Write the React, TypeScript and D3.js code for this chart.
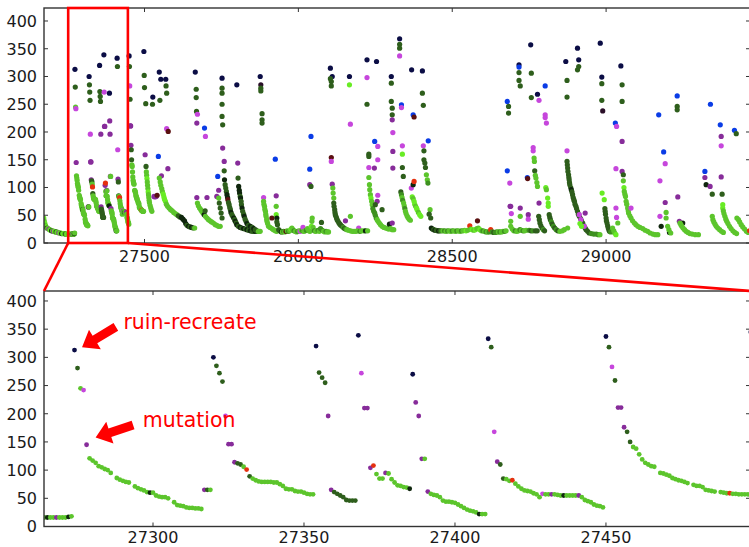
import React, { useEffect, useRef } from 'react';
import * as d3 from 'd3';

type Pt = [number, number, string];

// cost per iteration, colour key = which operator produced the solution
const startRun: Pt[] = [
  [27173, 45, 'lime'], [27174, 40, 'lg'], [27176, 36, 'lime'], [27178, 32, 'lg'], [27180, 29, 'lime'],
  [27183, 27, 'dg'], [27186, 26, 'lime'], [27189, 25, 'p'], [27192, 24, 'lg'], [27195, 23, 'lime'],
  [27198, 22, 'k'], [27201, 22, 'lg'], [27204, 21, 'p'], [27207, 21, 'lime'], [27210, 20, 'lg'],
  [27213, 20, 'dg'], [27216, 19, 'lime'], [27219, 19, 'lg'], [27222, 18, 'p'], [27225, 18, 'lime'],
  [27228, 18, 'lg'], [27231, 17, 'k'], [27234, 17, 'lg'], [27237, 17, 'lime'], [27240, 17, 'lg'],
  [27243, 16, 'dg'], [27246, 16, 'lg'], [27249, 16, 'lime'], [27252, 16, 'lg'], [27255, 16, 'lg'],
  [27258, 16, 'lg'], [27261, 16, 'lime'],
];

const zoomRun: Pt[] = [
  [27264, 16, 'lg'], [27265, 16, 'k'], [27266, 16, 'lg'], [27267, 16, 'lg'], [27268, 16, 'p'],
  [27269, 16, 'lg'], [27270, 16, 'lg'], [27271, 16, 'lg'], [27272, 17, 'k'], [27273, 18, 'lg'],
  [27274, 313, 'nv'], [27275, 281, 'dg'], [27276, 245, 'lg'], [27277, 242, 'm'], [27278, 145, 'p'],
  [27279, 121, 'lg'], [27280, 117, 'lg'], [27281, 113, 'lg'], [27282, 107, 'lg'], [27283, 105, 'lg'],
  [27284, 102, 'lg'], [27285, 100, 'lg'], [27286, 95, 'lg'], [27288, 86, 'lg'], [27289, 83, 'lg'],
  [27290, 81, 'lg'], [27291, 79, 'lg'], [27292, 78, 'lg'], [27294, 71, 'lg'], [27295, 68, 'lg'],
  [27296, 66, 'lg'], [27297, 64, 'lg'], [27298, 61, 'lg'], [27299, 60, 'k'], [27300, 60, 'lg'],
  [27301, 55, 'lg'], [27302, 53, 'lg'], [27303, 52, 'lg'], [27304, 52, 'lg'], [27305, 50, 'lg'],
  [27307, 43, 'lg'], [27308, 38, 'lg'], [27309, 37, 'lg'], [27310, 36, 'lg'], [27311, 34, 'lg'],
  [27312, 33, 'lg'], [27313, 33, 'lg'], [27314, 32, 'lg'], [27315, 32, 'lg'], [27316, 31, 'lg'],
  [27317, 65, 'p'], [27318, 65, 'dg'], [27319, 65, 'lg'],
  [27320, 300, 'nv'], [27321, 285, 'dg'], [27322, 272, 'dg'], [27323, 257, 'dg'],
  [27324, 196, 'm'], [27325, 146, 'p'], [27326, 146, 'p'],
  [27327, 114, 'p'], [27328, 112, 'dg'], [27329, 110, 'dg'], [27330, 106, 'lg'], [27331, 101, 'r'], [27332, 89, 'dg'],
  [27333, 85, 'lg'], [27334, 82, 'lg'], [27335, 80, 'lg'], [27336, 79, 'lg'], [27337, 79, 'lg'],
  [27338, 79, 'lg'], [27339, 79, 'lg'], [27340, 78, 'lg'], [27341, 78, 'lg'], [27342, 75, 'lg'],
  [27343, 72, 'lg'], [27344, 67, 'lg'], [27345, 66, 'lg'], [27346, 66, 'lg'], [27347, 63, 'lg'],
  [27348, 62, 'lg'], [27349, 62, 'lg'], [27350, 60, 'lg'], [27351, 58, 'lg'], [27352, 57, 'lg'], [27353, 57, 'lg'],
  [27354, 320, 'nv'], [27355, 273, 'dg'], [27356, 264, 'dg'], [27357, 255, 'dg'], [27358, 196, 'p'],
  [27359, 65, 'p'], [27360, 61, 'dg'], [27361, 58, 'dg'], [27362, 55, 'dg'], [27363, 52, 'dg'],
  [27364, 47, 'dg'], [27365, 46, 'dg'], [27366, 46, 'dg'], [27367, 46, 'dg'],
  [27368, 339, 'nv'], [27369, 272, 'm'], [27370, 210, 'p'], [27371, 210, 'p'],
  [27372, 104, 'p'], [27373, 108, 'r'], [27374, 93, 'lg'], [27375, 85, 'lg'], [27376, 85, 'lg'],
  [27377, 95, 'p'], [27378, 94, 'lg'], [27379, 84, 'lg'], [27380, 78, 'lg'], [27381, 73, 'lg'],
  [27382, 72, 'lg'], [27383, 70, 'lg'], [27384, 69, 'lg'], [27385, 67, 'k'],
  [27386, 270, 'nv'], [27387, 220, 'p'], [27388, 196, 'p'], [27389, 120, 'p'], [27390, 120, 'lg'],
  [27391, 62, 'p'], [27392, 58, 'lg'], [27393, 56, 'lg'], [27394, 55, 'lg'], [27395, 52, 'lg'],
  [27396, 46, 'lg'], [27397, 44, 'lg'], [27398, 44, 'lg'], [27399, 43, 'lg'], [27400, 42, 'lg'],
  [27401, 39, 'lg'], [27402, 36, 'lg'], [27403, 33, 'lg'], [27404, 30, 'lg'], [27405, 28, 'lg'],
  [27406, 27, 'lg'], [27407, 25, 'lg'], [27408, 22, 'k'], [27409, 22, 'lg'], [27410, 22, 'lg'],
  [27411, 333, 'nv'], [27412, 318, 'dg'], [27413, 168, 'm'], [27414, 115, 'p'], [27415, 110, 'dg'],
  [27416, 85, 'dg'], [27417, 84, 'lg'], [27418, 81, 'lg'], [27419, 82, 'r'], [27420, 76, 'lg'],
  [27421, 71, 'lg'], [27422, 67, 'lg'], [27423, 64, 'lg'], [27424, 63, 'lg'], [27425, 62, 'lg'],
  [27426, 59, 'lg'], [27427, 57, 'lg'], [27428, 52, 'lg'], [27429, 58, 'm'], [27430, 57, 'lg'],
  [27431, 57, 'lg'], [27432, 57, 'p'], [27433, 57, 'lg'], [27434, 56, 'lg'], [27435, 55, 'lg'],
  [27436, 55, 'k'], [27437, 55, 'lg'], [27438, 55, 'lg'], [27439, 55, 'lg'], [27440, 55, 'lg'],
  [27441, 55, 'p'], [27442, 52, 'lg'], [27443, 47, 'lg'], [27444, 45, 'lg'], [27445, 43, 'lg'],
  [27446, 39, 'lg'], [27447, 37, 'lg'], [27448, 36, 'lg'], [27449, 34, 'lg'],
  [27450, 337, 'nv'], [27451, 318, 'dg'], [27452, 283, 'm'], [27453, 259, 'dg'], [27454, 211, 'p'],
  [27455, 211, 'p'], [27456, 176, 'p'], [27457, 168, 'dg'], [27458, 150, 'dg'],
  [27459, 141, 'lg'], [27460, 138, 'lg'], [27461, 128, 'lg'], [27462, 119, 'lg'], [27463, 113, 'lg'],
  [27464, 110, 'lg'], [27465, 107, 'lg'], [27466, 106, 'lg'], [27468, 95, 'lg'], [27469, 94, 'lg'],
  [27470, 92, 'lg'], [27471, 90, 'lg'], [27472, 86, 'lg'], [27473, 84, 'lg'], [27474, 82, 'lg'],
  [27475, 81, 'lg'], [27476, 79, 'lg'], [27477, 77, 'lg'], [27479, 74, 'lg'], [27480, 72, 'lg'],
  [27481, 72, 'lg'], [27482, 70, 'lg'], [27483, 65, 'lg'], [27484, 64, 'lg'], [27485, 63, 'lg'],
  [27486, 62, 'lg'], [27488, 61, 'lg'], [27489, 60, 'lg'], [27490, 59, 'lg'], [27491, 59, 'r'],
  [27492, 58, 'lg'], [27493, 58, 'lg'], [27494, 57, 'lg'], [27495, 57, 'lg'], [27496, 57, 'lg'], [27497, 57, 'lg'],
];

const run27500: Pt[] = [
  [27498, 345, 'nv'], [27499, 302, 'dg'], [27500, 280, 'dg'], [27502, 159, 'p'], [27504, 251, 'dg'], [27505, 138, 'dg'],
  [27506, 128, 'lg'], [27507, 122, 'lg'], [27508, 116, 'lime'], [27509, 110, 'lg'], [27510, 104, 'lg'],
  [27511, 98, 'lg'], [27512, 92, 'lime'], [27513, 87, 'lg'], [27514, 82, 'lg'], [27515, 77, 'lg'],
  [27516, 73, 'lg'], [27518, 68, 'lg'], [27520, 64, 'lg'], [27522, 60, 'lg'], [27524, 57, 'lg'],
  [27527, 263, 'nv'], [27526, 250, 'dg'], [27531, 84, 'p'], [27534, 83, 'p'], [27538, 84, 'p'], [27541, 86, 'dr'],
  [27545, 156, 'b'], [27548, 308, 'nv'], [27550, 257, 'dg'], [27553, 295, 'nv'], [27555, 121, 'p'],
  [27569, 295, 'nv'], [27570, 283, 'dg'], [27572, 270, 'dg'], [27572, 206, 'm'], [27577, 201, 'dr'], [27576, 134, 'p'],
  [27548, 117, 'lg'], [27551, 110, 'lg'], [27553, 104, 'lg'], [27556, 98, 'lg'], [27558, 93, 'lg'],
  [27561, 88, 'lime'], [27563, 83, 'lime'], [27565, 79, 'lime'], [27568, 75, 'lime'], [27571, 70, 'lg'],
  [27575, 66, 'lg'], [27580, 63, 'lg'], [27585, 60, 'lg'], [27590, 58, 'lg'], [27595, 55, 'lg'],
  [27600, 53, 'lg'], [27605, 51, 'lg'], [27610, 49, 'dg'], [27615, 47, 'dg'], [27620, 46, 'k'],
  [27625, 43, 'k'], [27630, 40, 'k'], [27634, 35, 'k'], [27638, 32, 'dg'], [27643, 30, 'k'],
  [27648, 29, 'dg'], [27653, 28, 'k'], [27658, 27, 'dg'], [27663, 27, 'lg'],
  [27665, 308, 'nv'], [27668, 277, 'dg'], [27668, 262, 'dg'], [27669, 237, 'dg'], [27672, 232, 'm'],
  [27670, 216, 'p'], [27695, 207, 'b'], [27698, 192, 'm'], [27670, 82, 'p'],
  [27672, 72, 'lg'], [27675, 67, 'lg'], [27679, 63, 'lg'], [27683, 60, 'lg'], [27686, 57, 'lg'],
  [27690, 54, 'lg'], [27694, 51, 'k'], [27698, 48, 'lg'], [27703, 45, 'lg'], [27708, 42, 'lg'],
  [27713, 40, 'lg'], [27718, 38, 'lg'], [27724, 36, 'lg'], [27730, 33, 'lg'], [27735, 32, 'lg'],
  [27740, 30, 'lg'], [27746, 30, 'lg'], [27697, 58, 'dg'], [27703, 82, 'p'], [27738, 120, 'b'], [27741, 95, 'p'],
  [27735, 84, 'p'], [27741, 81, 'lg'], [27743, 72, 'dg'], [27746, 63, 'dg'], [27749, 54, 'dg'], [27752, 45, 'dg'],
  [27752, 297, 'nv'], [27752, 279, 'dg'], [27752, 270, 'dg'], [27752, 250, 'dg'], [27752, 228, 'dg'],
  [27754, 213, 'dg'], [27754, 171, 'p'], [27759, 147, 'p'], [27759, 130, 'dg'], [27760, 114, 'k'],
  [27762, 105, 'dg'], [27764, 99, 'dg'], [27766, 93, 'dg'], [27768, 87, 'k'], [27770, 82, 'k'],
  [27771, 78, 'dr'], [27773, 73, 'dg'], [27775, 69, 'dg'], [27777, 64, 'dg'], [27779, 60, 'dg'],
  [27781, 55, 'k'], [27784, 51, 'dg'], [27787, 48, 'dg'], [27790, 45, 'k'], [27793, 42, 'dg'],
  [27795, 39, 'k'], [27798, 36, 'dg'], [27800, 33, 'k'], [27805, 30, 'dg'], [27811, 28, 'k'],
  [27816, 27, 'dg'], [27822, 26, 'k'], [27828, 25, 'dg'], [27833, 24, 'k'], [27838, 23, 'dg'],
  [27844, 22, 'k'], [27850, 21, 'dg'], [27855, 21, 'dg'], [27860, 21, 'k'], [27866, 21, 'dg'], [27871, 21, 'lg'],
  [27800, 285, 'nv'], [27803, 144, 'p'], [27804, 117, 'dg'],
  [27806, 102, 'k'], [27808, 95, 'k'], [27809, 90, 'k'], [27811, 84, 'dg'], [27812, 81, 'k'],
  [27814, 75, 'dg'], [27815, 69, 'dg'], [27817, 63, 'k'], [27819, 57, 'dg'], [27822, 52, 'dg'],
  [27824, 48, 'k'], [27827, 43, 'dg'], [27830, 39, 'dg'], [27833, 35, 'k'], [27838, 32, 'dg'],
  [27844, 30, 'k'], [27850, 28, 'dg'], [27855, 26, 'k'], [27860, 24, 'dg'], [27865, 22, 'dg'],
  [27870, 21, 'lg'], [27876, 21, 'lg'],
  [27876, 300, 'nv'], [27878, 285, 'kp'], [27878, 279, 'dg'], [27878, 274, 'dg'], [27882, 233, 'dg'],
  [27882, 222, 'dg'], [27882, 216, 'dg'], [27887, 82, 'm'],
  [27887, 75, 'lg'], [27888, 70, 'lg'], [27890, 66, 'lg'], [27891, 61, 'lg'], [27893, 57, 'lg'],
  [27894, 52, 'lg'], [27895, 48, 'lg'], [27897, 43, 'lg'], [27898, 39, 'lg'], [27900, 35, 'lg'],
  [27903, 30, 'lg'], [27908, 28, 'lg'], [27914, 26, 'lg'], [27919, 24, 'lg'], [27925, 22, 'lg'], [27930, 21, 'lg'],
  [27925, 151, 'b'], [27928, 85, 'p'], [27928, 66, 'lg'], [27928, 51, 'lime'], [27914, 45, 'dr'],
  [27930, 45, 'k'], [27930, 38, 'dg'], [27932, 33, 'dg'], [27936, 24, 'dg'], [27940, 22, 'dg'], [27945, 20, 'k'],
];

const run28000: Pt[] = [
  [27948, 20, 'lg'], [27952, 21, 'g'], [27956, 20, 'lg'], [27960, 21, 'dr'], [27964, 22, 'lg'],
  [27968, 21, 'g'], [27972, 22, 'lg'], [27976, 25, 'lime'], [27979, 27, 'lg'], [27982, 24, 'lg'],
  [27986, 22, 'g'], [27990, 21, 'lg'], [27994, 20, 'lg'], [27998, 21, 'g'], [28002, 22, 'lg'],
  [28006, 21, 'm'], [28010, 23, 'lg'], [28014, 22, 'g'], [28015, 28, 'm'], [28018, 21, 'lg'],
  [28022, 22, 'lg'], [28026, 23, 'g'], [28030, 26, 'lg'], [28034, 22, 'lg'], [28038, 21, 'lg'],
  [28042, 30, 'lime'], [28044, 39, 'lg'], [28045, 45, 'lg'], [28048, 28, 'lg'], [28052, 22, 'g'],
  [28056, 21, 'lg'], [28060, 22, 'lg'], [28064, 23, 'g'], [28068, 21, 'lg'], [28072, 26, 'g'],
  [28075, 37, 'dg'], [28078, 23, 'g'], [28082, 21, 'lg'], [28086, 20, 'lg'], [28090, 21, 'g'],
  [28094, 20, 'lg'], [28098, 20, 'lg'],
  [28037, 133, 'b'], [28041, 192, 'b'], [28037, 105, 'p'], [28041, 102, 'dg'],
  [28104, 315, 'nv'], [28110, 300, 'nv'], [28104, 296, 'dg'], [28107, 291, 'dg'], [28107, 283, 'dg'],
  [28107, 154, 'dr'], [28107, 147, 'm'], [28110, 106, 'p'], [28112, 99, 'lg'], [28115, 81, 'lg'],
  [28113, 90, 'lg'], [28115, 72, 'dg'], [28116, 66, 'dg'], [28118, 60, 'dg'], [28119, 55, 'dg'],
  [28120, 51, 'dg'], [28122, 48, 'dg'], [28124, 45, 'dg'], [28126, 42, 'dg'], [28129, 39, 'dg'],
  [28132, 36, 'dg'], [28135, 34, 'dg'], [28138, 32, 'dg'], [28142, 30, 'dg'], [28146, 28, 'g'],
  [28150, 26, 'dg'], [28154, 25, 'g'], [28158, 24, 'lg'], [28163, 23, 'lg'], [28169, 22, 'lg'],
  [28175, 21, 'lg'], [28181, 21, 'lg'], [28187, 21, 'lg'],
  [28153, 40, 'p'], [28169, 48, 'lg'], [28196, 27, 'm'], [28166, 300, 'nv'], [28166, 285, 'lime'], [28169, 214, 'm'],
  [28192, 22, 'lg'], [28200, 21, 'g'], [28205, 22, 'lg'], [28212, 22, 'lg'], [28218, 22, 'k'], [28225, 22, 'lg'],
  [28223, 330, 'nv'], [28254, 327, 'nv'], [28223, 298, 'm'], [28223, 250, 'dg'], [28248, 183, 'b'],
  [28258, 174, 'm'], [28258, 150, 'm'], [28247, 135, 'p'], [28229, 160, 'dg'], [28229, 156, 'dg'], [28229, 136, 'm'],
  [28229, 118, 'lg'], [28231, 105, 'lg'], [28232, 96, 'lg'], [28234, 87, 'lg'], [28236, 81, 'lime'],
  [28238, 75, 'lg'], [28240, 69, 'lg'], [28242, 62, 'g'], [28245, 57, 'g'], [28248, 54, 'g'],
  [28250, 50, 'g'], [28253, 45, 'g'], [28256, 42, 'lg'], [28259, 39, 'lg'], [28263, 36, 'lg'],
  [28267, 33, 'lg'], [28272, 30, 'lg'], [28278, 28, 'lg'], [28284, 27, 'lg'], [28289, 26, 'lg'], [28294, 25, 'lg'],
  [28258, 86, 'm'], [28256, 75, 'p'], [28250, 69, 'dg'], [28272, 60, 'dg'], [28296, 34, 'k'],
  [28302, 300, 'nv'], [28302, 288, 'dg'], [28302, 255, 'dg'], [28305, 243, 'dg'], [28305, 231, 'dg'],
  [28305, 222, 'p'], [28307, 199, 'm'], [28307, 165, 'p'], [28307, 135, 'p'], [28305, 36, 'p'],
  [28300, 26, 'lg'], [28305, 24, 'lg'], [28310, 24, 'lg'],
  [28329, 368, 'nv'], [28329, 358, 'dg'], [28329, 351, 'dg'], [28329, 337, 'm'], [28368, 312, 'nv'],
  [28403, 310, 'nv'], [28403, 270, 'dg'], [28406, 248, 'dg'], [28335, 249, 'b'], [28335, 244, 'm'],
  [28373, 231, 'b'], [28376, 227, 'dr'], [28338, 175, 'm'], [28338, 160, 'lime'], [28338, 136, 'dg'], [28341, 120, 'dg'],
  [28333, 92, 'dg'], [28335, 87, 'g'], [28337, 82, 'lg'], [28339, 77, 'g'], [28342, 72, 'lg'],
  [28344, 67, 'lg'], [28346, 62, 'g'], [28348, 57, 'lg'], [28350, 53, 'lg'], [28353, 49, 'lg'],
  [28356, 46, 'lg'], [28360, 43, 'lg'], [28364, 41, 'lg'],
  [28367, 99, 'm'], [28373, 105, 'k'], [28376, 111, 'r'],
  [28370, 83, 'lime'], [28373, 80, 'lg'], [28376, 75, 'lime'], [28378, 70, 'lime'], [28381, 66, 'lg'],
  [28384, 63, 'lime'], [28386, 60, 'lime'], [28390, 55, 'lg'], [28394, 51, 'lime'], [28398, 48, 'lime'],
  [28422, 184, 'b'], [28406, 175, 'm'], [28408, 166, 'dg'], [28408, 150, 'dg'], [28411, 144, 'dg'],
  [28413, 136, 'dg'], [28416, 123, 'lg'], [28419, 114, 'lg'], [28421, 108, 'g'],
  [28428, 60, 'lg'], [28430, 45, 'dg'], [28425, 52, 'dg'],
];

const run28500: Pt[] = [
  [28432, 27, 'k'], [28436, 25, 'k'], [28440, 24, 'dg'], [28444, 23, 'k'], [28448, 23, 'dg'],
  [28452, 22, 'dg'], [28456, 22, 'k'], [28460, 22, 'dg'], [28465, 22, 'g'], [28470, 22, 'lg'],
  [28475, 22, 'g'], [28480, 21, 'lg'], [28485, 22, 'g'], [28490, 22, 'lg'], [28495, 21, 'lg'],
  [28500, 22, 'g'], [28505, 22, 'lg'], [28510, 21, 'lg'], [28515, 22, 'g'], [28520, 22, 'lg'],
  [28525, 21, 'lg'], [28530, 22, 'g'], [28535, 22, 'lg'], [28540, 23, 'lg'], [28545, 22, 'lime'],
  [28550, 23, 'lg'], [28557, 31, 'r'], [28560, 25, 'lg'], [28565, 24, 'lime'], [28570, 23, 'lg'],
  [28575, 24, 'lime'], [28580, 26, 'lg'], [28582, 40, 'dr'], [28585, 27, 'lg'], [28590, 24, 'lime'],
  [28595, 22, 'lg'], [28600, 22, 'g'], [28605, 21, 'lg'], [28610, 20, 'g'], [28615, 20, 'lg'],
  [28620, 20, 'g'], [28625, 24, 'r'], [28630, 20, 'g'], [28635, 19, 'dg'], [28640, 19, 'g'],
  [28645, 20, 'g'], [28650, 20, 'lg'], [28655, 20, 'g'], [28660, 20, 'lg'], [28665, 21, 'lg'],
  [28670, 21, 'g'], [28675, 22, 'lg'],
  [28679, 255, 'b'], [28683, 246, 'dg'], [28683, 234, 'dg'], [28679, 130, 'b'], [28687, 108, 'm'],
  [28688, 66, 'p'], [28690, 66, 'p'], [28692, 53, 'm'], [28690, 39, 'lg'], [28721, 63, 'p'],
  [28721, 48, 'lg'], [28747, 51, 'p'], [28747, 43, 'm'],
  [28690, 30, 'lg'], [28695, 25, 'lg'], [28700, 22, 'lg'], [28705, 22, 'g'], [28710, 21, 'lg'],
  [28715, 22, 'lg'], [28720, 24, 'g'], [28725, 23, 'lg'], [28730, 22, 'g'], [28735, 22, 'lg'],
  [28740, 23, 'lg'], [28750, 23, 'g'], [28756, 22, 'dg'], [28762, 22, 'g'], [28770, 22, 'dg'], [28776, 22, 'dg'],
  [28717, 321, 'nv'], [28717, 317, 'b'], [28717, 307, 'dg'], [28717, 293, 'dg'], [28721, 283, 'dg'],
  [28755, 357, 'nv'], [28757, 306, 'dg'], [28757, 262, 'dg'], [28777, 268, 'nv'], [28782, 257, 'm'],
  [28802, 283, 'b'], [28802, 231, 'm'], [28802, 226, 'm'], [28806, 216, 'm'],
  [28744, 118, 'b'], [28745, 116, 'dr'], [28763, 172, 'm'], [28763, 166, 'm'], [28766, 153, 'lg'],
  [28767, 147, 'lg'], [28768, 130, 'dg'], [28770, 122, 'lg'], [28772, 117, 'lg'], [28775, 109, 'lg'],
  [28777, 102, 'lg'], [28782, 72, 'p'], [28804, 100, 'lime'], [28806, 96, 'lg'], [28810, 81, 'lime'],
  [28812, 72, 'lime'], [28812, 66, 'lime'],
  [28781, 48, 'dg'], [28783, 42, 'dg'], [28785, 36, 'dg'], [28788, 31, 'dg'], [28792, 27, 'dg'],
  [28796, 24, 'g'], [28800, 22, 'dg'],
  [28815, 51, 'dg'], [28817, 46, 'dg'], [28819, 42, 'dg'], [28822, 38, 'g'], [28825, 34, 'dg'],
  [28829, 30, 'g'], [28833, 27, 'dg'], [28838, 24, 'g'], [28843, 22, 'dg'], [28850, 21, 'lg'],
  [28858, 22, 'lg'], [28864, 24, 'lg'],
  [28869, 327, 'nv'], [28873, 293, 'dg'], [28873, 263, 'dg'], [28873, 166, 'm'],
  [28873, 147, 'dg'], [28874, 141, 'dg'], [28875, 135, 'dg'], [28876, 129, 'dg'], [28878, 123, 'dg'],
  [28879, 118, 'dg'], [28880, 114, 'dg'], [28881, 109, 'dg'], [28882, 105, 'dg'], [28885, 100, 'dg'],
  [28887, 96, 'k'], [28889, 92, 'dg'], [28891, 87, 'dg'], [28893, 82, 'dg'], [28895, 78, 'dg'],
  [28897, 75, 'dg'], [28899, 70, 'dg'], [28902, 66, 'dg'], [28904, 62, 'dg'], [28907, 57, 'dg'],
  [28910, 52, 'dg'], [28913, 48, 'dg'], [28917, 44, 'dg'], [28920, 40, 'dg'], [28924, 36, 'dg'],
  [28928, 31, 'dg'], [28932, 27, 'dg'], [28935, 24, 'dg'], [28940, 21, 'dg'], [28945, 18, 'dg'],
  [28952, 17, 'g'], [28960, 16, 'g'], [28968, 16, 'g'], [28975, 15, 'g'], [28980, 15, 'lg'],
  [28913, 51, 'm'], [28918, 42, 'm'], [28929, 30, 'm'], [28932, 54, 'p'], [28875, 27, 'lg'],
  [28915, 35, 'lime'], [28920, 30, 'lime'],
  [28907, 351, 'nv'], [28911, 330, 'nv'], [28911, 318, 'dg'], [28907, 312, 'dg'],
];

const run29000: Pt[] = [
  [28981, 360, 'nv'], [28986, 299, 'nv'], [28986, 287, 'dg'], [28986, 257, 'dg'], [28989, 238, 'kp'],
  [28987, 90, 'lime'], [28994, 78, 'lime'],
  [28996, 62, 'dg'], [28997, 57, 'dg'], [28998, 52, 'dg'], [29000, 45, 'dg'], [29001, 40, 'dg'],
  [29003, 36, 'dg'], [29005, 31, 'dg'], [29007, 27, 'dg'], [29009, 24, 'dg'], [29011, 21, 'dg'],
  [29015, 20, 'g'], [29020, 22, 'g'], [29021, 27, 'lg'], [29025, 22, 'lg'], [29028, 18, 'lg'], [29032, 15, 'lime'],
  [29048, 319, 'nv'], [29052, 285, 'dg'], [29052, 255, 'dg'], [29030, 216, 'b'], [29034, 210, 'm'],
  [29052, 183, 'p'], [29032, 134, 'm'], [29052, 129, 'p'], [29056, 123, 'dg'], [29056, 112, 'lg'],
  [29032, 63, 'm'], [29034, 46, 'm'], [29038, 36, 'lg'],
  [29058, 100, 'lime'], [29059, 93, 'lg'], [29061, 88, 'lg'], [29063, 84, 'lg'], [29065, 75, 'lg'],
  [29067, 70, 'lg'], [29070, 63, 'lg'], [29072, 58, 'lg'], [29073, 54, 'lg'], [29077, 49, 'lg'],
  [29081, 45, 'lg'], [29086, 40, 'lg'], [29092, 36, 'lg'], [29097, 33, 'lg'], [29103, 30, 'lg'],
  [29110, 28, 'lg'], [29119, 26, 'lg'], [29127, 23, 'lg'], [29135, 21, 'lg'], [29143, 18, 'lg'],
  [29152, 16, 'lg'], [29160, 15, 'lg'], [29168, 15, 'lg'], [29081, 63, 'm'],
  [29171, 231, 'b'], [29187, 164, 'b'], [29192, 143, 'm'], [29175, 112, 'm'], [29192, 73, 'p'],
  [29195, 55, 'lg'], [29195, 45, 'lg'], [29175, 48, 'm'], [29179, 30, 'k'], [29206, 19, 'k'],
  [29200, 30, 'lg'], [29204, 24, 'lg'], [29210, 18, 'lg'],
  [29231, 265, 'b'], [29231, 246, 'dg'], [29231, 240, 'dg'], [29233, 83, 'p'], [29238, 39, 'p'], [29249, 36, 'k'],
  [29240, 36, 'lg'], [29243, 33, 'lg'], [29246, 30, 'lg'], [29250, 27, 'lg'], [29255, 24, 'lg'],
  [29260, 21, 'lg'], [29266, 19, 'lg'], [29272, 17, 'lg'], [29280, 16, 'lg'], [29290, 15, 'lg'], [29300, 15, 'lg'],
  [29339, 250, 'b'], [29321, 129, 'b'], [29321, 118, 'p'], [29325, 105, 'k'], [29338, 102, 'p'],
  [29345, 88, 'dg'], [29371, 213, 'b'], [29374, 192, 'p'], [29374, 175, 'm'], [29374, 119, 'p'],
  [29377, 88, 'dg'], [29379, 69, 'lime'], [29345, 48, 'lg'],
  [29347, 42, 'lg'], [29350, 38, 'lg'], [29354, 34, 'lg'], [29358, 30, 'lg'], [29363, 27, 'lg'],
  [29369, 24, 'lg'], [29375, 21, 'lg'], [29381, 19, 'lg'],
  [29379, 63, 'lime'], [29381, 58, 'lg'], [29383, 53, 'lg'], [29386, 48, 'lg'], [29389, 43, 'lg'],
  [29392, 39, 'lg'], [29396, 35, 'lg'], [29401, 30, 'lg'], [29406, 26, 'lg'], [29412, 22, 'lg'],
  [29418, 19, 'lg'], [29424, 17, 'lg'],
  [29417, 203, 'b'], [29423, 197, 'dg'], [29425, 45, 'lg'],
  [29430, 42, 'lg'], [29434, 38, 'lg'], [29439, 33, 'lg'], [29444, 29, 'lg'], [29450, 25, 'lg'],
  [29456, 21, 'lg'], [29462, 19, 'lg'], [29466, 22, 'r'],
];

const costTicks = [0, 50, 100, 150, 200, 250, 300, 350, 400];
const overviewTicks = [27500, 28000, 28500, 29000];
const zoomTicks = [27300, 27350, 27400, 27450];
const zoomWindow = [27252, 27446];

const palette: Record<string, string> = {
  lg: '#5cc52c', lime: '#68ec24', g: '#3e9020', dg: '#2e5e1c', k: '#0f260d', kp: '#2a0f28',
  nv: '#0b0d45', b: '#0a3ce6', p: '#872c9a', m: '#c646dc', r: '#e5300f', dr: '#5a1010',
};

const allPoints: Pt[] = [...startRun, ...zoomRun, ...run27500, ...run28000, ...run28500, ...run29000];

function arrowPath(x0: number, y0: number, x1: number, y1: number) {
  const w = 4.5, hw = 11.5, hl = 15;
  const dx = x1 - x0, dy = y1 - y0, len = Math.hypot(dx, dy);
  const ux = dx / len, uy = dy / len, nx = -uy, ny = ux;
  const bx = x1 - ux * hl, by = y1 - uy * hl;
  const pts = [
    [x0 + nx * w, y0 + ny * w], [bx + nx * w, by + ny * w], [bx + nx * hw, by + ny * hw],
    [x1, y1], [bx - nx * hw, by - ny * hw], [bx - nx * w, by - ny * w], [x0 - nx * w, y0 - ny * w],
  ];
  return 'M' + pts.map(p => p.join(',')).join('L') + 'Z';
}

const App = () => {
  const svgRef = useRef<SVGSVGElement>(null);

  useEffect(() => {
    document.body.style.margin = '0';
    const svg = d3.select(svgRef.current);
    svg.selectAll('*').remove();

    const left = 44, right = 750;

    const drawPanel = (id: string, top: number, bottom: number, xDomain: number[], yMax: number,
      ticks: number[], r: number, labelGap: number) => {
      const x = d3.scaleLinear().domain(xDomain).range([left, right]);
      const y = d3.scaleLinear().domain([0, yMax]).range([bottom, top]);
      const g = svg.append('g');

      g.append('clipPath').attr('id', id)
        .append('rect').attr('x', left).attr('y', top).attr('width', right - left).attr('height', bottom - top);

      g.append('g').attr('clip-path', `url(#${id})`)
        .selectAll('circle')
        .data(allPoints.filter(d => d[0] >= xDomain[0] - 2 && d[0] <= xDomain[1] + 2))
        .enter().append('circle')
        .attr('cx', d => x(d[0]))
        .attr('cy', d => y(d[1]))
        .attr('r', r)
        .attr('fill', d => palette[d[2]]);

      g.append('rect')
        .attr('x', left).attr('y', top).attr('width', right - left).attr('height', bottom - top)
        .attr('fill', 'none').attr('stroke', '#333').attr('stroke-width', 1.4);

      costTicks.forEach(t => {
        const ty = y(t);
        g.append('line').attr('x1', left).attr('x2', left + 4).attr('y1', ty).attr('y2', ty).attr('stroke', '#333');
        g.append('line').attr('x1', right - 4).attr('x2', right).attr('y1', ty).attr('y2', ty).attr('stroke', '#333');
        g.append('text')
          .attr('x', left - 7).attr('y', ty + 5.8)
          .attr('text-anchor', 'end')
          .attr('font-family', 'DejaVu Sans').attr('font-size', 16).attr('fill', '#1a1a1a')
          .text(t);
      });

      ticks.forEach(t => {
        const tx = x(t);
        g.append('line').attr('x1', tx).attr('x2', tx).attr('y1', bottom).attr('y2', bottom - 4).attr('stroke', '#333');
        g.append('line').attr('x1', tx).attr('x2', tx).attr('y1', top).attr('y2', top + 4).attr('stroke', '#333');
        g.append('text')
          .attr('x', tx).attr('y', bottom + labelGap)
          .attr('text-anchor', 'middle')
          .attr('font-family', 'DejaVu Sans').attr('font-size', 16).attr('fill', '#1a1a1a')
          .text(t);
      });

      return { x, y };
    };

    const over = drawPanel('clipTop', 8, 243, [27173.4, 29467.6], 423.4, overviewTicks, 2.6, 18.5);
    const zoom = drawPanel('clipBottom', 291, 526.5, [27263.9, 27497.7], 417.7, zoomTicks, 2.4, 16.5);

    // window marker and connecting lines
    const wx0 = over.x(zoomWindow[0]), wx1 = over.x(zoomWindow[1]);
    svg.append('rect')
      .attr('x', wx0).attr('y', 8).attr('width', wx1 - wx0).attr('height', 235)
      .attr('fill', 'none').attr('stroke', '#ff0000').attr('stroke-width', 2.6);
    svg.append('line').attr('x1', wx0).attr('y1', 243).attr('x2', left).attr('y2', 291)
      .attr('stroke', '#ff0000').attr('stroke-width', 2.6);
    svg.append('line').attr('x1', wx1).attr('y1', 243).attr('x2', right).attr('y2', 291)
      .attr('stroke', '#ff0000').attr('stroke-width', 2.6);

    // annotations
    const notes = [
      { label: 'ruin-recreate', tx: 27290.2, ty: 350, from: [27287.7, 354], to: [27276.5, 318] },
      { label: 'mutation', tx: 27296.6, ty: 176.5, from: [27293.4, 180], to: [27281, 158] },
    ];
    notes.forEach(n => {
      svg.append('path')
        .attr('d', arrowPath(zoom.x(n.from[0]), zoom.y(n.from[1]), zoom.x(n.to[0]), zoom.y(n.to[1])))
        .attr('fill', '#ff0000');
      svg.append('text')
        .attr('x', zoom.x(n.tx)).attr('y', zoom.y(n.ty))
        .attr('font-family', 'DejaVu Sans').attr('font-size', 20.5).attr('fill', '#ff0000')
        .text(n.label);
    });
  }, []);

  return <svg ref={svgRef} width={749} height={547} style={{ display: 'block' }}></svg>;
};

export default App;
